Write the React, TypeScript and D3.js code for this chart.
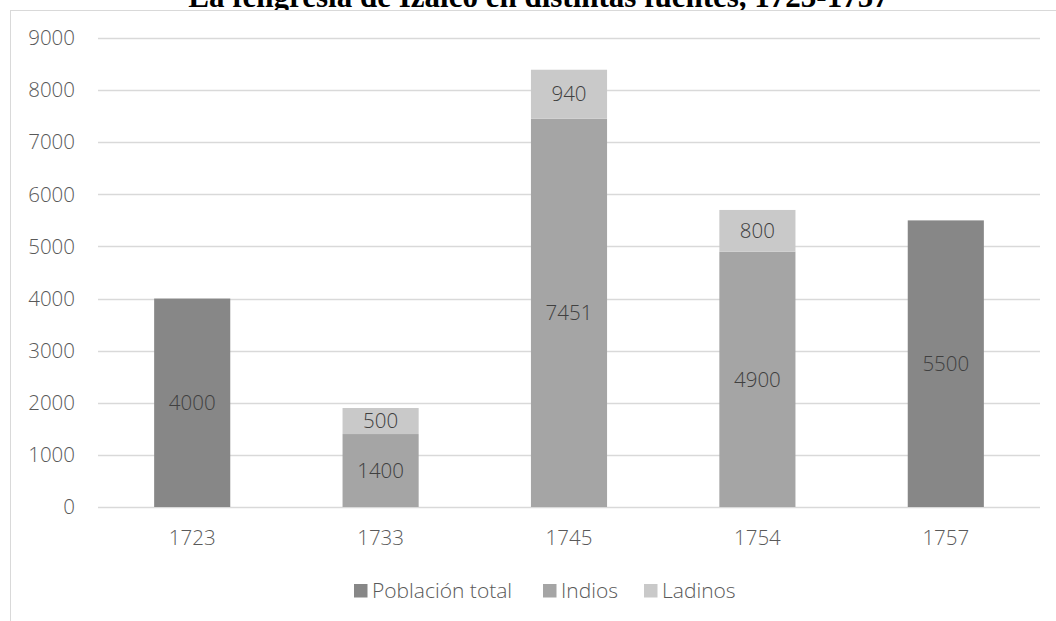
import React from "react";
import * as d3 from "d3";

const categories = ["1723", "1733", "1745", "1754", "1757"];
const poblacionTotal = [4000, 0, 0, 0, 5500];
const indios = [0, 1400, 7451, 4900, 0];
const ladinos = [0, 500, 940, 800, 0];
const yTicks = [0, 1000, 2000, 3000, 4000, 5000, 6000, 7000, 8000, 9000];
const seriesNames = ["Población total", "Indios", "Ladinos"];
const title = "La feligresía de Izalco en distintas fuentes, 1723-1757";

const W = 1056;
const H = 621;
const colors = ["#878787", "#a5a5a5", "#c9c9c9"];
const font = "'Open Sans', sans-serif";
const fs = 20.5;

export default function App() {
  const x = d3
    .scaleBand<string>()
    .domain(categories)
    .range([98, 1040])
    .paddingInner(0.596)
    .paddingOuter(0.298);
  const y = d3.scaleLinear().domain([0, 9000]).range([507, 38]);

  const rows = categories.map((c, i) => ({
    cat: c,
    "Población total": poblacionTotal[i],
    Indios: indios[i],
    Ladinos: ladinos[i],
  }));
  const stack = d3.stack<any>().keys(seriesNames)(rows);

  const legendItems = [
    { name: seriesNames[0], sx: 354, tx: 372 },
    { name: seriesNames[1], sx: 543, tx: 561 },
    { name: seriesNames[2], sx: 644, tx: 662 },
  ];

  return (
    <svg
      width={W}
      height={H}
      style={{ position: "absolute", left: 0, top: 0, display: "block" }}
    >
      <rect x={0} y={0} width={W} height={H} fill="#fff" />
      <text
        x={538.5}
        y={7}
        textAnchor="middle"
        fontFamily="'Liberation Serif', 'Times New Roman', serif"
        fontWeight="bold"
        fontSize={31}
        fill="#000"
      >
        {title}
      </text>
      <rect x={10.5} y={10.5} width={1200} height={800} fill="#fff" stroke="#d9d9d9" strokeWidth={1} />
      {yTicks.map((t) => (
        <g key={t}>
          <line x1={98} x2={1040} y1={Math.round(y(t)) + 0.5} y2={Math.round(y(t)) + 0.5} stroke="#d9d9d9" strokeWidth={1.5} />
          <text
            x={75}
            y={y(t)}
            dy="0.35em"
            textAnchor="end"
            fontFamily={font}
            fontWeight={300}
            fontSize={fs}
            fill="#595959"
          >
            {t}
          </text>
        </g>
      ))}
      {stack.map((s, si) =>
        s.map((d, i) => {
          const v = d[1] - d[0];
          if (!v) return null;
          const bx = x(categories[i])!;
          const y0 = y(d[0]);
          const y1 = y(d[1]);
          return (
            <g key={si + "-" + i}>
              <rect x={bx} y={y1} width={x.bandwidth()} height={y0 - y1} fill={colors[si]} />
              <text
                x={bx + x.bandwidth() / 2}
                y={(y0 + y1) / 2}
                dy="0.35em"
                textAnchor="middle"
                fontFamily={font}
                fontWeight={300}
                fontSize={fs}
                fill="#404040"
              >
                {v}
              </text>
            </g>
          );
        })
      )}
      {categories.map((c) => (
        <text
          key={c}
          x={x(c)! + x.bandwidth() / 2}
          y={538}
          dy="0.35em"
          textAnchor="middle"
          fontFamily={font}
          fontWeight={300}
          fontSize={fs}
          fill="#595959"
        >
          {c}
        </text>
      ))}
      {legendItems.map((it, i) => (
        <g key={it.name}>
          <rect x={it.sx} y={584} width={13.5} height={13.5} fill={colors[i]} />
          <text
            x={it.tx}
            y={590.5}
            dy="0.35em"
            fontFamily={font}
            fontWeight={300}
            fontSize={21}
            fill="#595959"
          >
            {it.name}
          </text>
        </g>
      ))}
    </svg>
  );
}
